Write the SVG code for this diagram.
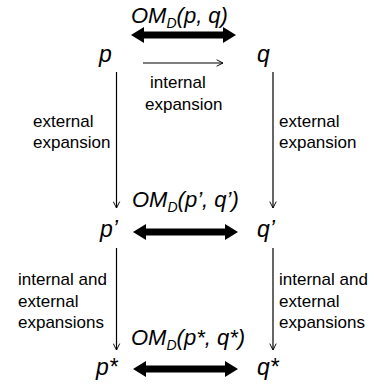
<svg xmlns="http://www.w3.org/2000/svg" xmlns:xlink="http://www.w3.org/1999/xlink" width="378" height="387" viewBox="0 0 378 387">
<style>
.lbl{font-family:"Liberation Sans",Arial,sans-serif;font-size:17px;fill:#000}
.node{font-family:"Liberation Sans",Arial,sans-serif;font-size:23px;font-style:italic;fill:#000}
.om{font-family:"Liberation Sans",Arial,sans-serif;font-size:22px;font-style:italic;fill:#000}
.sub{font-size:14px}
.thin{stroke:#000;stroke-width:1.2;fill:none;marker-end:url(#open)}
.thick{fill:#000}
</style>
<defs>
<marker id="open" viewBox="0 0 10 10" refX="9" refY="5" markerWidth="8" markerHeight="8" markerUnits="userSpaceOnUse" orient="auto">
<path d="M1,1 L9,5 L1,9" fill="none" stroke="#000" stroke-width="1.2"/>
</marker>
<path id="dbl" d="M0,0 L13,-8 L13,-3.5 L92,-3.5 L92,-8 L105,0 L92,8 L92,3.5 L13,3.5 L13,8 Z"/>
</defs>
<g id="n-p"><text class="node" x="99" y="62">p</text></g>
<g id="n-q"><text class="node" x="257" y="62">q</text></g>
<g id="n-p1"><text class="node" x="100" y="237">p’</text></g>
<g id="n-q1"><text class="node" x="257" y="237">q’</text></g>
<g id="n-p2"><text class="node" x="96" y="375">p*</text></g>
<g id="n-q2"><text class="node" x="257" y="375">q*</text></g>
<g id="connectors">
<use xlink:href="#dbl" class="thick" x="131" y="35"/>
<use xlink:href="#dbl" class="thick" x="133" y="232"/>
<use xlink:href="#dbl" class="thick" x="133" y="369"/>
<line class="thin" x1="143" y1="63" x2="223" y2="63"/>
<line class="thin" x1="116.5" y1="72" x2="116.5" y2="208"/>
<line class="thin" x1="273" y1="72" x2="273" y2="208"/>
<line class="thin" x1="116.5" y1="248" x2="116.5" y2="350"/>
<line class="thin" x1="273" y1="248" x2="273" y2="350"/>
</g>
<g id="labels">
<text class="om" x="131" y="23">OM<tspan class="sub" dy="5">D</tspan><tspan dy="-5">(p, q)</tspan></text>
<text class="om" x="132" y="207">OM<tspan class="sub" dy="5">D</tspan><tspan dy="-5">(p’, q’)</tspan></text>
<text class="om" x="131" y="345">OM<tspan class="sub" dy="5">D</tspan><tspan dy="-5">(p*, q*)</tspan></text>
<text class="lbl" x="150" y="88">internal</text>
<text class="lbl" x="145" y="110">expansion</text>
<text class="lbl" x="33" y="127">external</text>
<text class="lbl" x="33" y="148">expansion</text>
<text class="lbl" x="279" y="127">external</text>
<text class="lbl" x="279" y="148">expansion</text>
<text class="lbl" x="18" y="285">internal and</text>
<text class="lbl" x="18" y="307">external</text>
<text class="lbl" x="18" y="328">expansions</text>
<text class="lbl" x="279" y="285">internal and</text>
<text class="lbl" x="279" y="307">external</text>
<text class="lbl" x="279" y="328">expansions</text>
</g>
</svg>
